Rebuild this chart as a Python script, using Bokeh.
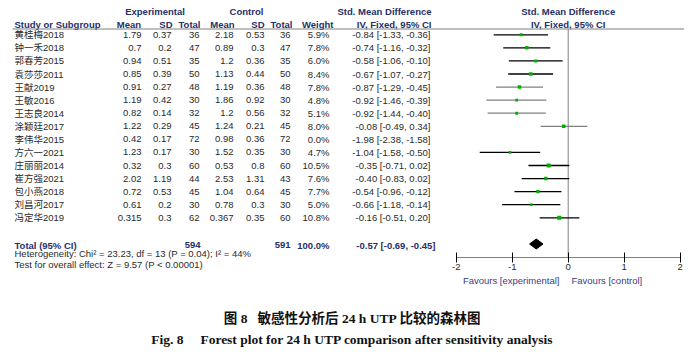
import math
from bokeh.plotting import figure
from bokeh.models import Range1d, FixedTicker, ColumnDataSource
from bokeh.core.properties import value
from bokeh.embed import file_html
from bokeh.resources import INLINE

# ---------------- data ----------------
studies = ["黄桂梅2018", "钟一禾2018", "郭春芳2015", "袁莎莎2011", "王献2019", "王敏2016",
           "王志良2014", "涂颖廷2017", "李伟华2015", "方六一2021", "庄丽丽2014", "崔方强2021",
           "包小燕2018", "刘昌河2017", "冯定华2019"]
exp_mean = [1.79, 0.7, 0.94, 0.85, 0.91, 1.19, 0.82, 1.22, 0.42, 1.23, 0.32, 2.02, 0.72, 0.61, 0.315]
exp_sd = [0.37, 0.2, 0.51, 0.39, 0.27, 0.42, 0.14, 0.29, 0.17, 0.17, 0.3, 1.19, 0.53, 0.2, 0.3]
exp_n = [36, 47, 35, 50, 48, 30, 32, 45, 72, 30, 60, 44, 45, 30, 62]
ctl_mean = [2.18, 0.89, 1.2, 1.13, 1.19, 1.86, 1.2, 1.24, 0.98, 1.52, 0.53, 2.53, 1.04, 0.78, 0.367]
ctl_sd = [0.53, 0.3, 0.36, 0.44, 0.36, 0.92, 0.56, 0.21, 0.36, 0.35, 0.8, 1.31, 0.64, 0.3, 0.35]
ctl_n = [36, 47, 35, 50, 48, 30, 32, 45, 72, 30, 60, 43, 45, 30, 60]
weight = [5.9, 7.8, 6.0, 8.4, 7.8, 4.8, 5.1, 8.0, 0.0, 4.7, 10.5, 7.6, 7.7, 5.0, 10.8]
smd = [-0.84, -0.74, -0.58, -0.67, -0.87, -0.92, -0.92, -0.08, -1.98, -1.04, -0.35, -0.40, -0.54, -0.66, -0.16]
smd_lo = [-1.33, -1.16, -1.06, -1.07, -1.29, -1.46, -1.44, -0.49, -2.38, -1.58, -0.71, -0.83, -0.96, -1.18, -0.51]
smd_hi = [-0.36, -0.32, -0.10, -0.27, -0.45, -0.39, -0.40, 0.34, -1.58, -0.50, 0.02, 0.02, -0.12, -0.14, 0.20]
ci_colors = ["#000000"] * 4 + ["#808080"] * 4 + ["#000000"] * 7

total_exp_n = 594
total_ctl_n = 591
total_weight = "100.0%"
total_smd = -0.57
total_lo = -0.69
total_hi = -0.45
heterogeneity = "Heterogeneity: Chi\u00b2 = 23.23, df = 13 (P = 0.04); I\u00b2 = 44%"
overall = "Test for overall effect: Z = 9.57 (P < 0.00001)"
ticks = [-2, -1, 0, 1, 2]
favours_left = "Favours [experimental]"
favours_right = "Favours [control]"
caption_cn = "图 8\u00a0\u00a0\u00a0敏感性分析后 24 h UTP 比较的森林图"
caption_en = "Fig. 8\u00a0\u00a0\u00a0\u00a0\u00a0Forest plot for 24 h UTP comparison after sensitivity analysis"

# ---------------- layout helpers ----------------
W, H = 684, 348
X0, XS = 567.7, 56.0     # screen x of SMD 0, px per SMD unit
Y0, YS = 34.3, 13.07     # screen y of first study row, px per row
SHIFT = -3               # horizontal shift applied to text columns


def dx(px):
    return (px - X0) / XS


def cx(px):
    return dx(px + SHIFT)


def dy(py):
    return (py - Y0) / YS


p = figure(width=W, height=H, output_backend="svg", toolbar_location=None,
           x_range=Range1d(dx(0), dx(W)), y_range=Range1d(dy(H), dy(0)),
           y_axis_location=None, min_border=0)
p.min_border_left = p.min_border_right = p.min_border_top = p.min_border_bottom = 0
p.outline_line_color = None
p.grid.visible = False
p.background_fill_color = "white"
p.border_fill_color = "white"

FONT = "'Liberation Sans', 'Noto Sans CJK SC'"
HEAD = "#26306a"
BODY = "#2a2a2a"
FS = "9.5px"


def txt(xs, ys, texts, align="left", color=BODY, style="normal", size=FS, font=FONT):
    src = ColumnDataSource(dict(x=xs, y=ys, t=texts))
    p.text(x="x", y="y", text="t", source=src, text_align=align, text_baseline="middle",
           text_color=color, text_font=value(font), text_font_style=style,
           text_font_size=size)


n = len(studies)
rows = list(range(n))

# ---------------- headers ----------------
y1, y2 = dy(10.5), dy(24)
txt([cx(157.5), cx(249)], [y1, y1], ["Experimental", "Control"], "center", HEAD, "bold")
txt([cx(434)], [y1], ["Std. Mean Difference"], "right", HEAD, "bold")
txt([0], [y1], ["Std. Mean Difference"], "center", HEAD, "bold")
txt([cx(17)], [y2], ["Study or Subgroup"], "left", HEAD, "bold")
txt([cx(143.5), cx(175), cx(203), cx(237), cx(267), cx(295), cx(336), cx(434)], [y2] * 8,
    ["Mean", "SD", "Total", "Mean", "SD", "Total", "Weight", "IV, Fixed, 95% CI"],
    "right", HEAD, "bold")
txt([0], [y2], ["IV, Fixed, 95% CI"], "center", HEAD, "bold")

p.segment(x0=[cx(15)], y0=[dy(28.5)], x1=[dx(W)], y1=[dy(28.5)],
          line_color="#808080", line_width=1)

# ---------------- study rows ----------------
txt([cx(17)] * n, rows, studies, "left")
txt([cx(144)] * n, rows, [str(v) for v in exp_mean], "right")
txt([cx(174)] * n, rows, [str(v) for v in exp_sd], "right")
txt([cx(202)] * n, rows, [str(v) for v in exp_n], "right")
txt([cx(236)] * n, rows, [str(v) for v in ctl_mean], "right")
txt([cx(267)] * n, rows, [str(v) for v in ctl_sd], "right")
txt([cx(293)] * n, rows, [str(v) for v in ctl_n], "right")
txt([cx(332)] * n, rows, [f"{v:.1f}%" for v in weight], "right")
txt([cx(433)] * n, rows, [f"{m:.2f} [{l:.2f}, {h:.2f}]" for m, l, h in zip(smd, smd_lo, smd_hi)], "right")

# ---------------- totals ----------------
yt_text = dy(244.5)
txt([cx(17)], [yt_text], ["Total (95% CI)"], "left", HEAD, "bold")
txt([cx(203), cx(293), cx(332)], [yt_text] * 3,
    [str(total_exp_n), str(total_ctl_n), total_weight], "right", HEAD, "bold")
txt([cx(438)], [yt_text], [f"{total_smd:.2f} [{total_lo:.2f}, {total_hi:.2f}]"], "right", HEAD, "bold")
txt([cx(17)], [dy(253)], [heterogeneity], "left")
txt([cx(17)], [dy(263.5)], [overall], "left")

# ---------------- forest marks ----------------
keep = [i for i in rows if weight[i] > 0]
p.segment(x0=[0], y0=[dy(28.5)], x1=[0], y1=[dy(257.3)], line_color="#808080", line_width=1)
ci_src = ColumnDataSource(dict(
    lo=[smd_lo[i] for i in keep], hi=[smd_hi[i] for i in keep], y=[rows[i] for i in keep],
    c=[ci_colors[i] for i in keep], m=[smd[i] for i in keep],
    s=[1.25 * math.sqrt(weight[i]) for i in keep]))
p.segment(x0="lo", x1="hi", y0="y", y1="y", line_color="c", line_width=1.3, source=ci_src)
p.scatter(x="m", y="y", size="s", marker="square", fill_color="#00b000",
          line_color=None, source=ci_src)

yd = dy(243.5)
hh = 5.0 / YS
p.patch(x=[total_lo, total_smd, total_hi, total_smd], y=[yd, yd - hh, yd, yd + hh],
        fill_color="#000000", line_color="#000000")

# ---------------- axis ----------------
ax = p.xaxis[0]
ax.fixed_location = dy(257.3)
ax.bounds = (min(ticks), max(ticks))
ax.ticker = FixedTicker(ticks=ticks)
ax.major_label_overrides = {t: str(t) for t in ticks}
ax.minor_tick_line_color = None
ax.major_tick_in = 5
ax.major_tick_out = 5
ax.axis_line_color = "#7f7f7f"
ax.major_tick_line_color = "#000000"
ax.major_label_standoff = 1
ax.major_label_text_font = "Liberation Sans"
ax.major_label_text_font_size = FS
ax.major_label_text_color = BODY

FAV = "#3b3b8f"
txt([cx(562)], [dy(280)], [favours_left], "right", FAV)
txt([cx(574)], [dy(280)], [favours_right], "left", FAV)

# ---------------- caption ----------------
txt([cx(355)], [dy(318)], [caption_cn], "center", "#111111", "bold", "13.5px",
    "'Liberation Serif', 'Noto Sans CJK SC'")
txt([cx(355)], [dy(338.5)], [caption_en], "center", "#111111", "bold", "13.5px",
    "'Liberation Serif', 'Noto Sans CJK SC'")

open("out.html", "w").write(file_html(p, INLINE))
